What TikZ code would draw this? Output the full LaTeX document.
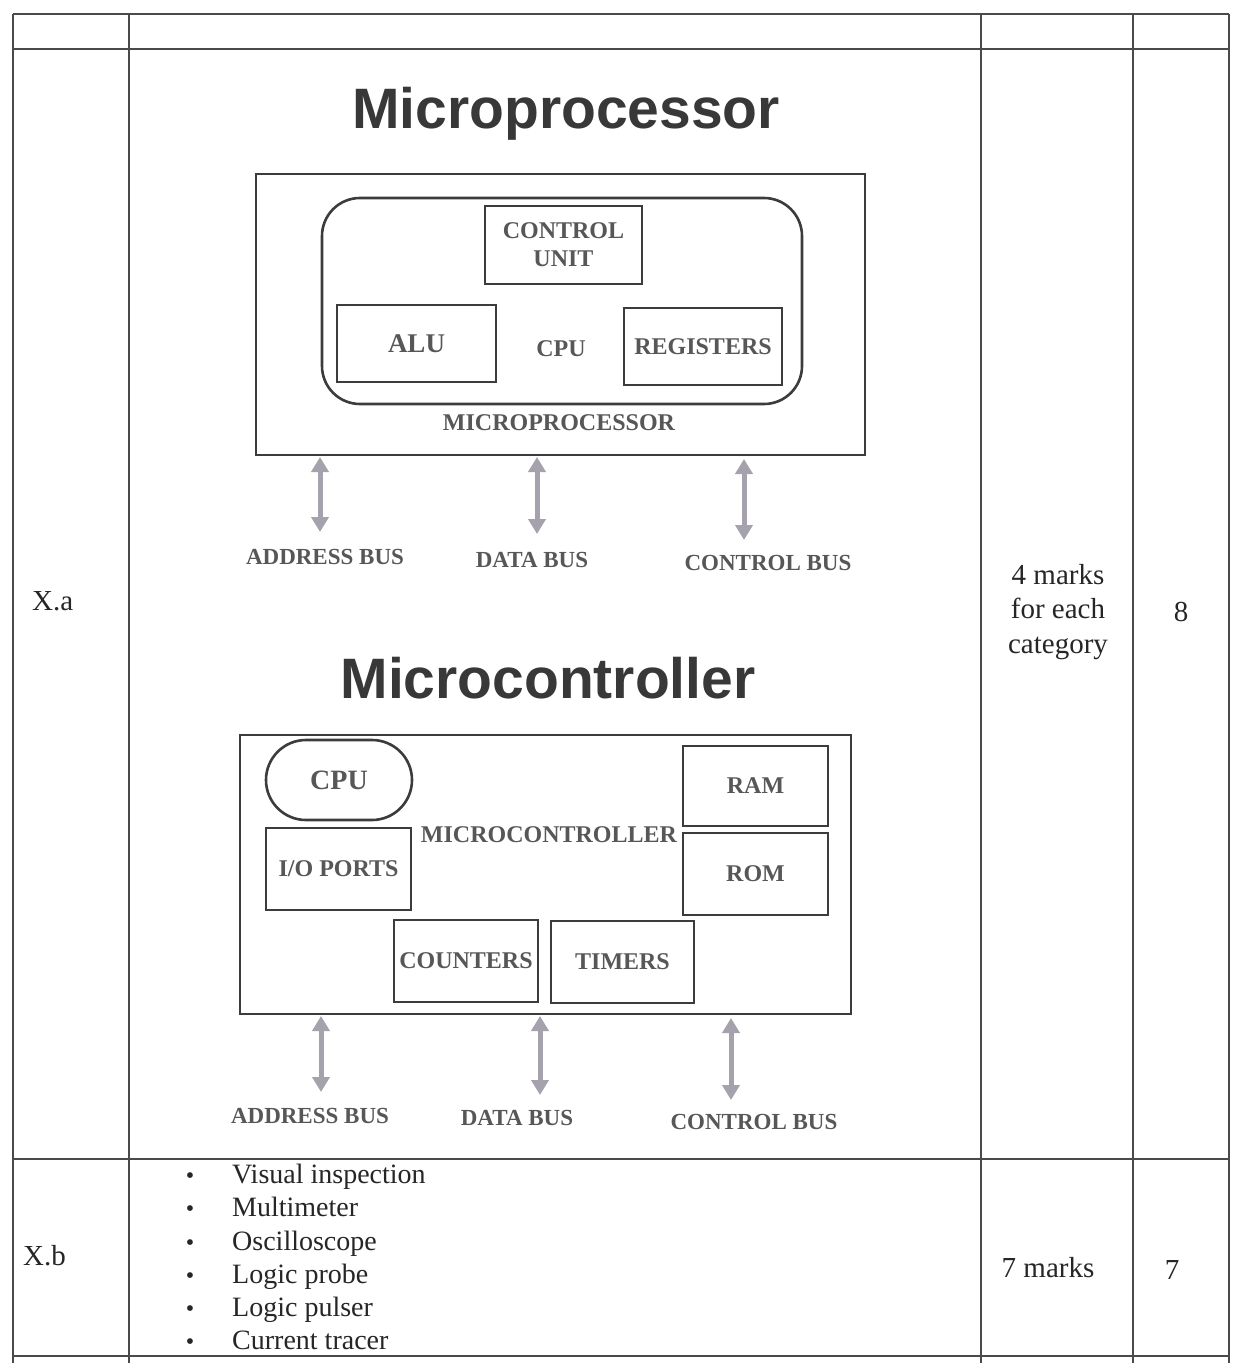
\documentclass[tikz,border=0pt]{standalone}
\usepackage{fontspec}
\setmainfont{Liberation Serif}
\newfontfamily\titlefont{Liberation Sans}
\usetikzlibrary{arrows.meta}
\definecolor{ink}{HTML}{262626}
\definecolor{boxline}{HTML}{3C3C3C}
\definecolor{boxtext}{HTML}{575757}
\definecolor{busgray}{HTML}{A5A2AD}
\definecolor{rulecol}{HTML}{4A4A4A}
\definecolor{titlecol}{HTML}{383838}
\begin{document}
\begin{tikzpicture}[x=1pt,y=-1pt,
  tline/.style={draw=rulecol,line width=1.6pt},
  blk/.style={draw=boxline,line width=2.6pt,inner sep=0pt,text=boxtext,
    font=\bfseries\fontsize{24}{28}\selectfont,align=center},
  lbl/.style={inner sep=0pt,text=boxtext,font=\bfseries\fontsize{23}{28}\selectfont},
  bus/.style={draw=busgray,line width=5pt,
    {Triangle[width=17pt,length=15pt]}-{Triangle[width=17pt,length=15pt]}},
  ttl/.style={inner sep=0pt,text=titlecol,anchor=base,
    font=\titlefont\bfseries\fontsize{57}{60}\selectfont},
  cell/.style={inner sep=0pt,text=ink,font=\fontsize{29}{34.5}\selectfont},
  item/.style={inner sep=0pt,text=ink,anchor=base west,font=\fontsize{28}{33}\selectfont},
  dot/.style={inner sep=0pt,text=ink,anchor=base,font=\fontsize{24}{33}\selectfont},
  ]
\useasboundingbox[fill=white] (0,0) rectangle (1235,1363);

% ---------- table ----------
\coordinate (tl) at (13,14);
\coordinate (tr) at (1229,14);
\draw[tline] (13,14) -- (1229,14);
\draw[tline] (13,49) -- (1229,49);
\draw[tline] (13,1159) -- (1229,1159);
\draw[tline] (13,1356) -- (1229,1356);
\draw[tline] (13,14) -- (13,1363);
\draw[tline] (129,14) -- (129,1363);
\draw[tline] (981,14) -- (981,1363);
\draw[tline] (1133,14) -- (1133,1363);
\draw[tline] (1229,14) -- (1229,1363);

% ---------- table texts ----------
\node[cell,anchor=base west] (xa) at (32,610) {X.a};
\node[cell,align=center] (marksa) at (1058,612) {4 marks\\for each\\category};
\node[cell] (tota) at (1181,612) {8};
\node[cell,anchor=base west] (xb) at (23,1265) {X.b};
\node[cell] (marksb) at (1048,1268) {7 marks};
\node[cell] (totb) at (1172,1270) {7};

\node[dot] (b1) at (190,1183) {•}; \node[item] (i1) at (232,1183) {Visual inspection};
\node[dot] (b2) at (190,1216) {•}; \node[item] (i2) at (232,1216) {Multimeter};
\node[dot] (b3) at (190,1250) {•}; \node[item] (i3) at (232,1250) {Oscilloscope};
\node[dot] (b4) at (190,1283) {•}; \node[item] (i4) at (232,1283) {Logic probe};
\node[dot] (b5) at (190,1316) {•}; \node[item] (i5) at (232,1316) {Logic pulser};
\node[dot] (b6) at (190,1349) {•}; \node[item] (i6) at (232,1349) {Current tracer};

% ---------- Microprocessor ----------
\node[ttl] (t1) at (566,128) {Microprocessor};
\node[blk,minimum width=609pt,minimum height=281pt] (mp) at (560.5,314.5) {};
\node[blk,rounded corners=38pt,minimum width=480pt,minimum height=206pt] (cpu) at (562,301) {};
\node[blk,minimum width=157pt,minimum height=78pt] (cu) at (563.5,245) {CONTROL\\UNIT};
\node[blk,minimum width=159pt,minimum height=77pt,font=\bfseries\fontsize{27}{30}\selectfont] (alu) at (416.5,343.5) {ALU};
\node[blk,minimum width=158pt,minimum height=77pt] (reg) at (703,346.5) {REGISTERS};
\node[lbl,font=\bfseries\fontsize{24}{28}\selectfont] (cpulbl) at (561,349) {CPU};
\node[lbl,font=\bfseries\fontsize{24}{28}\selectfont] (mplbl) at (559,423) {MICROPROCESSOR};

\node[lbl] (ab1) at (325,557) {ADDRESS BUS};
\node[lbl] (db1) at (532,560) {DATA BUS};
\node[lbl] (cb1) at (768,563) {CONTROL BUS};
\coordinate (a1t) at (320,457); \coordinate (a1b) at (320,532);
\coordinate (d1t) at (537,457); \coordinate (d1b) at (537,534);
\coordinate (c1t) at (744,459); \coordinate (c1b) at (744,540);
\draw[bus] (a1t) -- (a1b);
\draw[bus] (d1t) -- (d1b);
\draw[bus] (c1t) -- (c1b);

% ---------- Microcontroller ----------
\node[ttl] (t2) at (548,698) {Microcontroller};
\node[blk,minimum width=611pt,minimum height=279pt] (mc) at (545.5,874.5) {};
\node[blk,rounded corners=40pt,minimum width=146pt,minimum height=80pt,
  font=\bfseries\fontsize{28}{30}\selectfont] (cpu2) at (339,780) {CPU};
\node[blk,minimum width=145pt,minimum height=82pt] (io) at (338.5,869) {I/O PORTS};
\node[blk,minimum width=145pt,minimum height=80pt] (ram) at (755.5,786) {RAM};
\node[blk,minimum width=145pt,minimum height=82pt] (rom) at (755.5,874) {ROM};
\node[blk,minimum width=144pt,minimum height=82pt] (cnt) at (466,961) {COUNTERS};
\node[blk,minimum width=143pt,minimum height=82pt] (tim) at (622.5,962) {TIMERS};
\node[lbl,font=\bfseries\fontsize{24}{28}\selectfont] (mclbl) at (549,835) {MICROCONTROLLER};

\node[lbl] (ab2) at (310,1116) {ADDRESS BUS};
\node[lbl] (db2) at (517,1118) {DATA BUS};
\node[lbl] (cb2) at (754,1122) {CONTROL BUS};
\coordinate (a2t) at (321,1016); \coordinate (a2b) at (321,1092);
\coordinate (d2t) at (540,1016); \coordinate (d2b) at (540,1095);
\coordinate (c2t) at (731,1018); \coordinate (c2b) at (731,1100);
\draw[bus] (a2t) -- (a2b);
\draw[bus] (d2t) -- (d2b);
\draw[bus] (c2t) -- (c2b);
\end{tikzpicture}
\end{document}
